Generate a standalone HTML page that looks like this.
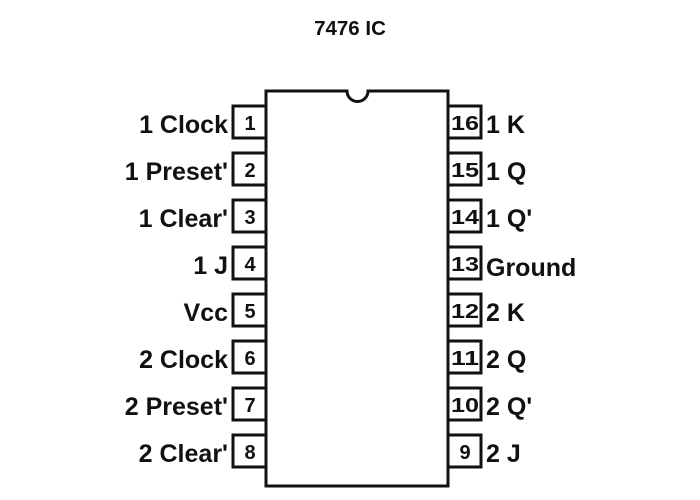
<!DOCTYPE html>
<html><head><meta charset="utf-8"><style>
html,body{margin:0;padding:0;background:#fff}
svg{display:block}
text{font-family:"Liberation Sans",sans-serif;font-weight:bold;fill:#111}
</style></head><body>
<svg width="700" height="500" viewBox="0 0 700 500">
<text x="350" y="35" font-size="20.5" text-anchor="middle">7476 IC</text>
<path d="M266 91 H347 A10.5 10.5 0 0 0 368 91 H448 V486 H266 Z" fill="#fff" stroke="#111" stroke-width="3"/>
<g fill="#fff" stroke="#111" stroke-width="3">
<rect x="233" y="106" width="33" height="32"/>
<rect x="233" y="153" width="33" height="32"/>
<rect x="233" y="200" width="33" height="32"/>
<rect x="233" y="247" width="33" height="32"/>
<rect x="233" y="294" width="33" height="32"/>
<rect x="233" y="341" width="33" height="32"/>
<rect x="233" y="388" width="33" height="32"/>
<rect x="233" y="435" width="33" height="32"/>
<rect x="448" y="106" width="33" height="32"/>
<rect x="448" y="153" width="33" height="32"/>
<rect x="448" y="200" width="33" height="32"/>
<rect x="448" y="247" width="33" height="32"/>
<rect x="448" y="294" width="33" height="32"/>
<rect x="448" y="341" width="33" height="32"/>
<rect x="448" y="388" width="33" height="32"/>
<rect x="448" y="435" width="33" height="32"/>
</g>
<g font-size="20" text-anchor="middle">
<text x="250" y="130">1</text><text x="250" y="177">2</text><text x="250" y="224">3</text><text x="250" y="271">4</text>
<text x="250" y="318">5</text><text x="250" y="365">6</text><text x="250" y="412">7</text><text x="250" y="459">8</text>
<text x="465" y="130" textLength="28" lengthAdjust="spacingAndGlyphs">16</text><text x="465" y="177" textLength="28" lengthAdjust="spacingAndGlyphs">15</text>
<text x="465" y="224" textLength="28" lengthAdjust="spacingAndGlyphs">14</text><text x="465" y="271" textLength="28" lengthAdjust="spacingAndGlyphs">13</text>
<text x="465" y="318" textLength="28" lengthAdjust="spacingAndGlyphs">12</text><text x="465" y="365" textLength="28" lengthAdjust="spacingAndGlyphs">11</text>
<text x="465" y="412" textLength="28" lengthAdjust="spacingAndGlyphs">10</text><text x="465" y="459">9</text>
</g>
<g font-size="25" text-anchor="end">
<text x="228" y="133">1 Clock</text><text x="228" y="180">1 Preset'</text><text x="228" y="227">1 Clear'</text><text x="228" y="274">1 J</text>
<text x="228" y="321">Vcc</text><text x="228" y="368">2 Clock</text><text x="228" y="415">2 Preset'</text><text x="228" y="462">2 Clear'</text>
</g>
<g font-size="25">
<text x="486" y="133">1 K</text><text x="486" y="180">1 Q</text><text x="486" y="227">1 Q'</text><text x="486" y="276">Ground</text>
<text x="486" y="321">2 K</text><text x="486" y="368">2 Q</text><text x="486" y="415">2 Q'</text><text x="486" y="462">2 J</text>
</g>
</svg>
</body></html>
